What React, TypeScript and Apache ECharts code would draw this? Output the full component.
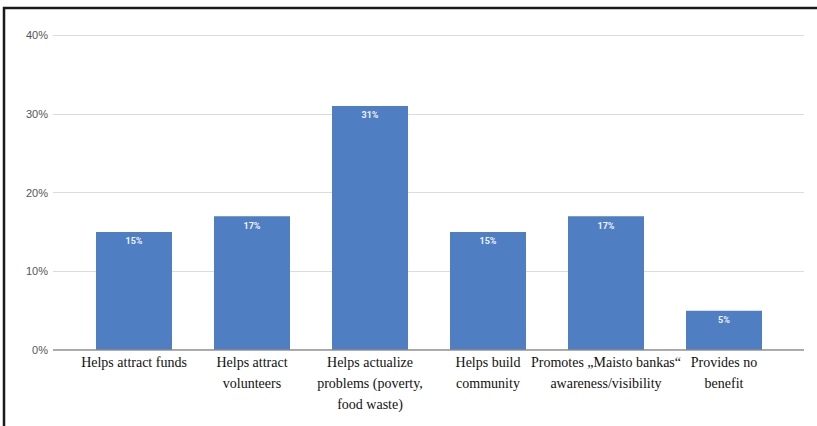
import React, { useEffect, useRef } from "react";
import * as echarts from "echarts";

const categories = [
  "Helps attract funds",
  "Helps attract\nvolunteers",
  "Helps actualize\nproblems (poverty,\nfood waste)",
  "Helps build\ncommunity",
  "Promotes „Maisto bankas“\nawareness/visibility",
  "Provides no\nbenefit",
];
const values = [15, 17, 31, 15, 17, 5];
const yTicks = [0, 10, 20, 30, 40];

export default function App() {
  const ref = useRef<HTMLDivElement>(null);
  useEffect(() => {
    const chart = echarts.init(ref.current!, undefined, { renderer: "svg" });
    chart.setOption({
      animation: false,
      backgroundColor: "#ffffff",
      grid: [
        { left: 53, right: 13, top: 35, bottom: 76 },
        { left: 75, right: 34, top: 35, bottom: 76 },
      ],
      xAxis: [
        {
          gridIndex: 0,
          type: "value",
          min: 0,
          max: 1,
          axisLine: { show: false },
          axisTick: { show: false },
          axisLabel: { show: false },
          splitLine: { show: false },
        },
        {
          gridIndex: 1,
          type: "category",
          data: categories,
          axisLine: { show: false },
          axisTick: { show: false },
          axisLabel: {
            color: "#111",
            fontFamily: "Liberation Serif",
            fontSize: 14,
            lineHeight: 21,
            margin: 2,
            interval: 0,
          },
        },
      ],
      yAxis: [
        {
          gridIndex: 0,
          type: "value",
          min: yTicks[0],
          max: yTicks[yTicks.length - 1],
          interval: 10,
          axisLine: { show: false },
          axisTick: { show: false },
          axisLabel: {
            formatter: "{value}%",
            color: "#555",
            fontFamily: "Liberation Sans",
            fontSize: 11,
            margin: 5,
          },
          splitLine: { lineStyle: { color: "#dcdcdc", width: 1 } },
        },
        {
          gridIndex: 1,
          type: "value",
          min: 0,
          max: 40,
          interval: 10,
          axisLine: { show: false },
          axisTick: { show: false },
          axisLabel: { show: false },
          splitLine: { show: false },
        },
      ],
      series: [
        {
          type: "line",
          xAxisIndex: 0,
          yAxisIndex: 0,
          data: [[0, 0], [1, 0]],
          symbol: "none",
          lineStyle: { color: "#8a8a8a", width: 1.5 },
          silent: true,
          z: 5,
        },
        {
          type: "bar",
          xAxisIndex: 1,
          yAxisIndex: 1,
          data: values,
          barWidth: 76,
          itemStyle: { color: "#4f7ec2" },
          label: {
            show: true,
            position: "insideTop",
            distance: 5,
            formatter: "{c}%",
            color: "#eef2fa",
            fontFamily: "Roboto",
            fontSize: 9,
            fontWeight: "bold",
          },
          z: 3,
        },
      ],
      graphic: [
        {
          type: "rect",
          shape: { x: 4, y: 8, width: 900, height: 600 },
          style: { fill: "none", stroke: "#1a1a1a", lineWidth: 2.5 },
          z: 10,
        },
      ],
    });
    return () => chart.dispose();
  }, []);
  return (
    <div
      ref={ref}
      style={{ position: "fixed", left: 0, top: 0, width: 817, height: 426 }}
    />
  );
}
